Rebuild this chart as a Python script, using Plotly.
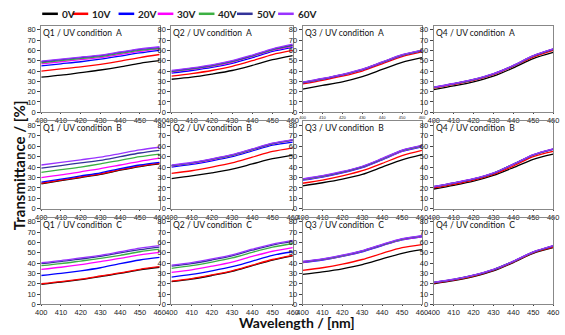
import plotly.graph_objects as go

W, H = 565, 335

wavelength = [400, 410, 420, 430, 440, 450, 460]
voltages = ["0V", "10V", "20V", "30V", "40V", "50V", "60V"]
colors = ["#000000", "#ff0000", "#0000ff", "#ff00ff", "#3cb043", "#333399", "#9933ff"]
quarters = ["Q1", "Q2", "Q3", "Q4"]
conditions = ["A", "B", "C"]

# Transmittance [%] per panel; one row per voltage (0V..60V), columns at 400..460 nm
q1_a = [[34, 36, 38.5, 41, 44, 47.5, 50],
        [40, 42, 44, 46.5, 49.5, 53, 56],
        [45, 47, 49, 51.5, 54.5, 57.5, 60],
        [47, 49, 51, 53, 56, 59, 61.5],
        [48, 50, 52, 54, 57, 60, 62],
        [49, 51, 53, 55, 58, 61, 63],
        [49.5, 51.5, 53.5, 55.5, 58.5, 61.5, 63.5]]
q2_a = [[32, 34, 37, 40.5, 45.5, 51, 55],
        [35, 37.5, 40.5, 44.5, 50, 56, 60],
        [38, 40.5, 43.5, 47.5, 53, 59, 63],
        [39, 41.5, 44.5, 48.5, 54, 60, 64],
        [39.5, 42, 45, 49, 54.5, 60.5, 64.5],
        [40, 42.5, 45.5, 49.5, 55, 61, 65],
        [40.5, 43, 46, 50, 55.5, 61.5, 66]]
q3_a = [[22.5, 26, 29.5, 34.5, 41.5, 48.5, 53],
        [27.5, 31, 35, 40, 47, 54, 58.5],
        [28.5, 32, 36, 41, 48, 55, 59.5],
        [28.7, 32.2, 36.2, 41.2, 48.2, 55.2, 59.7],
        [28.9, 32.4, 36.4, 41.4, 48.4, 55.4, 59.9],
        [29.1, 32.6, 36.6, 41.6, 48.6, 55.6, 60.1],
        [29.3, 32.8, 36.8, 41.8, 48.8, 55.8, 60.3]]
q4_a = [[22, 25.5, 29.5, 35, 43, 52, 58],
        [23.5, 27, 31, 36.5, 44.5, 53.5, 60],
        [24, 27.5, 31.5, 37, 45, 54.5, 61],
        [24.1, 27.6, 31.6, 37.1, 45.1, 54.6, 61.1],
        [24.2, 27.7, 31.7, 37.2, 45.2, 54.7, 61.2],
        [24.3, 27.8, 31.8, 37.3, 45.3, 54.8, 61.3],
        [24.4, 27.9, 31.9, 37.4, 45.4, 54.9, 61.4]]
q1_b = [[24, 27, 30, 33, 37, 40.5, 43],
        [24.5, 27.5, 30.5, 33.5, 37.5, 41, 43.5],
        [25.5, 28.5, 31.5, 34.5, 38.5, 42, 44.5],
        [30, 32.5, 35.5, 38.5, 42, 45.5, 48.5],
        [35, 37.5, 40, 43, 46.5, 50, 52.5],
        [39, 41.5, 44, 46.5, 50, 53.5, 56],
        [42, 44.5, 47, 49.5, 53, 56.5, 59]]
q2_b = [[29, 31.5, 34.5, 38, 43, 48, 51.5],
        [34, 36.5, 40, 44, 49.5, 55, 58.5],
        [40, 42.5, 46, 50, 55.5, 61, 64],
        [41, 43.5, 47, 51, 56.5, 62, 65.5],
        [41.3, 43.8, 47.3, 51.3, 56.8, 62.3, 65.8],
        [41.6, 44.1, 47.6, 51.6, 57.1, 62.6, 66.1],
        [41.9, 44.4, 47.9, 51.9, 57.4, 62.9, 66.4]]
q3_b = [[22, 25, 28.5, 33, 40, 47, 52],
        [24.5, 27.5, 31.5, 36.5, 43.5, 51, 56],
        [27.5, 30.5, 34.5, 39.5, 47, 55, 59.5],
        [27.9, 30.9, 34.9, 39.9, 47.4, 55.4, 59.9],
        [28.2, 31.2, 35.2, 40.2, 47.7, 55.7, 60.2],
        [28.5, 31.5, 35.5, 40.5, 48, 56, 60.5],
        [28.8, 31.8, 35.8, 40.8, 48.3, 56.3, 60.8]]
q4_b = [[19, 22.5, 26.5, 32, 39.5, 47.5, 52.5],
        [20, 23.5, 27.5, 33, 41, 50, 55],
        [21, 24.5, 28.5, 34, 42.5, 51.5, 57],
        [21.1, 24.6, 28.6, 34.1, 42.6, 51.6, 57.1],
        [21.2, 24.7, 28.7, 34.2, 42.7, 51.7, 57.2],
        [21.3, 24.8, 28.8, 34.3, 42.8, 51.8, 57.3],
        [21.4, 24.9, 28.9, 34.4, 42.9, 51.9, 57.4]]
q1_c = [[19.5, 21.5, 24, 27, 30, 33.5, 36],
        [20, 22, 24.5, 27.5, 30.5, 34, 36.5],
        [28, 30, 32.5, 35.5, 39.5, 43, 45.5],
        [34, 36, 38.5, 41.5, 44.5, 48, 50.5],
        [37.5, 39.5, 42, 44.5, 47.5, 51, 53.5],
        [39.5, 41.5, 44, 46.5, 50, 53, 55.5],
        [40.5, 42.5, 45, 47.5, 51, 54.5, 57]]
q2_c = [[22, 24.5, 28, 32, 37.5, 43, 47],
        [22.5, 25, 28.5, 32.5, 38, 43.5, 47.5],
        [26.5, 29, 32.5, 36.5, 42, 47.5, 51],
        [31, 33.5, 37, 41, 46.5, 51.5, 55],
        [35, 37.5, 41, 45, 50.5, 55.5, 59],
        [37, 39.5, 43, 47, 52.5, 57.5, 61],
        [38, 40.5, 44, 48, 53.5, 58.5, 62]]
q3_c = [[29, 31.5, 34.5, 38.5, 44, 49.5, 53],
        [33, 35.5, 39, 43.5, 49.5, 55, 58],
        [40.5, 43, 46.5, 51, 57, 62.5, 65.5],
        [40.8, 43.3, 46.8, 51.3, 57.3, 62.8, 65.8],
        [41.1, 43.6, 47.1, 51.6, 57.6, 63.1, 66.1],
        [41.4, 43.9, 47.4, 51.9, 57.9, 63.4, 66.4],
        [41.7, 44.2, 47.7, 52.2, 58.2, 63.7, 66.7]]
q4_c = [[20, 23, 27, 32.5, 40.5, 49.5, 55],
        [20.5, 23.5, 27.5, 33, 41, 50, 55.5],
        [21, 24, 28, 33.5, 41.5, 50.5, 56.5],
        [21.1, 24.1, 28.1, 33.6, 41.6, 50.6, 56.6],
        [21.2, 24.2, 28.2, 33.7, 41.7, 50.7, 56.7],
        [21.3, 24.3, 28.3, 33.8, 41.8, 50.8, 56.8],
        [21.4, 24.4, 28.4, 33.9, 41.9, 50.9, 56.9]]

panels = [[q1_a, q2_a, q3_a, q4_a],
          [q1_b, q2_b, q3_b, q4_b],
          [q1_c, q2_c, q3_c, q4_c]]

# layout geometry in pixels
col_px = [(36, 157), (169, 293), (303, 425), (437, 559)]
row_px = [(26, 114), (123, 212), (221, 309)]

TXT = "Lato"
TICK = "Liberation Sans"

fig = go.Figure()
annotations = []
shapes = []
layout_axes = {}

for r in range(3):
    for c in range(4):
        i = r * 4 + c + 1
        xa = "x" if i == 1 else f"x{i}"
        ya = "y" if i == 1 else f"y{i}"
        data = panels[r][c]
        for k, v in enumerate(voltages):
            fig.add_trace(go.Scatter(
                x=wavelength, y=data[k], mode="lines", name=v,
                line=dict(color=colors[k], width=1.3, shape="spline", smoothing=0.8),
                xaxis=xa, yaxis=ya, showlegend=False, hoverinfo="skip"))
        x0, x1 = col_px[c]
        y0, y1 = row_px[r]
        xfont = 7.5
        if r == 0 and c == 2:
            xfont = 4
        layout_axes["xaxis" if i == 1 else f"xaxis{i}"] = dict(
            domain=[x0 / W, x1 / W], anchor=ya, range=[400, 460],
            tickvals=[400, 410, 420, 430, 440, 450, 460],
            ticks="outside", ticklen=1, tickcolor="#444",
            tickfont=dict(family=TICK, size=xfont, color="#222"),
            showgrid=False, zeroline=False, showline=True, mirror=True,
            linecolor="#888", linewidth=1)
        layout_axes["yaxis" if i == 1 else f"yaxis{i}"] = dict(
            domain=[1 - y1 / H, 1 - y0 / H], anchor=xa, range=[0, 84],
            tickvals=[0, 10, 20, 30, 40, 50, 60, 70, 80],
            ticks="outside", ticklen=3, tickcolor="#444",
            tickfont=dict(family=TICK, size=7.5, color="#222"),
            showgrid=False, zeroline=False, showline=True, mirror=True,
            linecolor="#888", linewidth=1)
        annotations.append(dict(
            text=f"{quarters[c]} / UV condition  {conditions[r]}",
            xref=f"{xa} domain", yref=f"{ya} domain", x=0.0, y=1.0,
            xanchor="left", yanchor="top", showarrow=False,
            font=dict(family=TXT, size=8.5, color="#111")))

# custom legend row
leg_x = [37, 68, 115, 155, 197, 236, 278]
leg_y = 1 - 14 / H
for k, v in enumerate(voltages):
    shapes.append(dict(type="line", xref="paper", yref="paper",
                       x0=leg_x[k] / W, x1=(leg_x[k] + 16) / W, y0=leg_y, y1=leg_y,
                       line=dict(color=colors[k], width=2.5)))
    annotations.append(dict(text=f"<b>{v}</b>", xref="paper", yref="paper",
                            x=(leg_x[k] + 18) / W, y=leg_y, xanchor="left", yanchor="middle",
                            showarrow=False, font=dict(family=TXT, size=10, color="#222")))

annotations.append(dict(text="<b>Transmittance / [%]</b>", xref="paper", yref="paper",
                        x=14 / W, y=1 - 168 / H, textangle=-90, showarrow=False,
                        xanchor="center", yanchor="middle",
                        font=dict(family=TXT, size=15, color="#111")))
annotations.append(dict(text="<b>Wavelength / [nm]</b>", xref="paper", yref="paper",
                        x=297 / W, y=1 - 327 / H, showarrow=False,
                        xanchor="center", yanchor="middle",
                        font=dict(family=TXT, size=14, color="#111")))

fig.update_layout(width=W, height=H, margin=dict(l=0, r=0, t=0, b=0),
                  paper_bgcolor="white", plot_bgcolor="white",
                  showlegend=False, annotations=annotations, shapes=shapes,
                  **layout_axes)

fig.write_html("out.html")
